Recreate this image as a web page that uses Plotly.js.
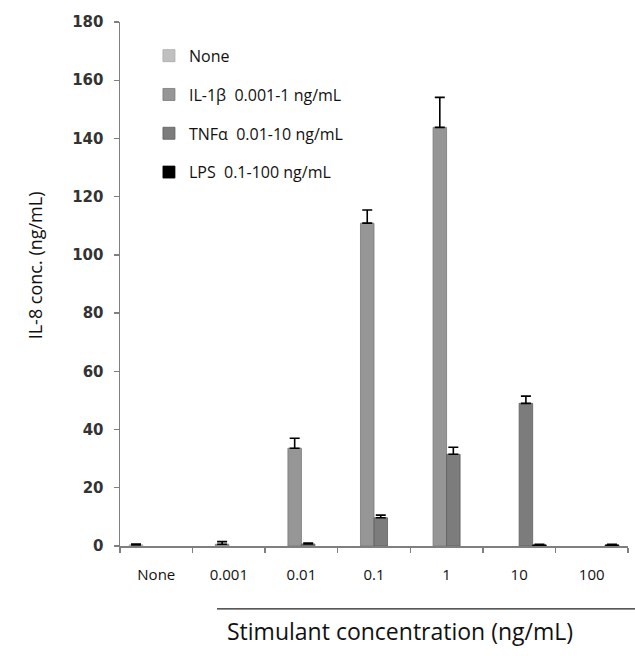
<!DOCTYPE html>
<html>
<head>
<meta charset="utf-8">
<script src="https://cdn.plot.ly/plotly-3.0.1.min.js"></script>
<style>html,body{margin:0;padding:0;background:#fff;}</style>
</head>
<body>
<div id="chart" style="width:635px;height:656px;"></div>
<script>
// Categories (stimulant concentration, ng/mL)
const categories = ["None", "0.001", "0.01", "0.1", "1", "10", "100"];

// Series names
const seriesNames = ["None", "IL-1\u03b2\u00a0\u00a00.001-1 ng/mL", "TNF\u03b1\u00a0\u00a00.01-10 ng/mL", "LPS\u00a0\u00a00.1-100 ng/mL"];

// IL-8 concentrations (ng/mL)
const noneValues = [0.4, null, null, null, null, null, null];
const noneErrors = [0.3, null, null, null, null, null, null];
const il1bValues = [null, 0.6, 33.6, 110.9, 143.8, null, null];
const il1bErrors = [null, 0.9, 3.4, 4.5, 10.3, null, null];
const tnfaValues = [null, null, 0.7, 9.7, 31.5, 49.0, null];
const tnfaErrors = [null, null, 0.3, 0.9, 2.4, 2.5, null];
const lpsValues = [null, null, null, null, null, 0.4, 0.4];
const lpsErrors = [null, null, null, null, null, 0.2, 0.2];

const colors = ["#c0c0c0", "#969696", "#7c7c7c", "#000000"];
const lineColors = ["#a8a8a8", "#7a7a7a", "#5e5e5e", "#000000"];
const valuesList = [noneValues, il1bValues, tnfaValues, lpsValues];
const errorsList = [noneErrors, il1bErrors, tnfaErrors, lpsErrors];

const traces = valuesList.map((vals, i) => ({
  type: "bar",
  name: seriesNames[i],
  legendgroup: "g" + i,
  x: categories,
  y: vals,
  marker: { color: colors[i], line: { color: lineColors[i], width: 0.8 } },
  error_y: { type: "data", array: errorsList[i], visible: true, color: "#000", thickness: 1.6, width: 5, symmetric: false, arrayminus: errorsList[i].map(() => 0) },
  hoverinfo: "x+y"
}));

const layout = {
  width: 635,
  height: 656,
  margin: { l: 120, r: 7, t: 22, b: 110 },
  paper_bgcolor: "#ffffff",
  plot_bgcolor: "#ffffff",
  barmode: "group",
  bargap: 0.255,
  bargroupgap: 0,
  font: { family: "DejaVu Sans", size: 13, color: "#111" },
  xaxis: {
    type: "category",
    categoryorder: "array",
    categoryarray: categories,
    showline: true,
    linecolor: "#7f7f7f",
    linewidth: 1.5,
    ticks: "outside",
    tickson: "boundaries",
    ticklen: 5,
    tickcolor: "#7f7f7f",
    tickwidth: 1.3,
    ticklabelstandoff: 14,
    showgrid: false,
    zeroline: false,
    tickfont: { family: "Open Sans", size: 15, color: "#111" }
  },
  yaxis: {
    range: [0, 180],
    dtick: 20,
    showline: true,
    linecolor: "#7f7f7f",
    linewidth: 1.5,
    ticks: "outside",
    ticklen: 5,
    tickcolor: "#7f7f7f",
    tickwidth: 1.3,
    ticklabelstandoff: 7,
    showgrid: false,
    zeroline: false,
    tickfont: { family: "DejaVu Sans", size: 15, color: "#333", weight: "bold" }
  },
  showlegend: true,
  legend: {
    x: 0.057,
    y: 0.968,
    xanchor: "left",
    yanchor: "top",
    bgcolor: "rgba(0,0,0,0)",
    font: { family: "Open Sans", size: 16, color: "#111" },
    tracegroupgap: 15,
    itemwidth: 30,
    traceorder: "grouped"
  },
  shapes: [
    { type: "line", xref: "paper", yref: "paper", x0: 0.191, x1: 1.02, y0: -0.12, y1: -0.12, line: { color: "#222", width: 1.3 } }
  ],
  annotations: [
    { text: "Stimulant concentration (ng/mL)", xref: "paper", yref: "paper", x: 0.551, y: -0.162, xanchor: "center", yanchor: "middle", showarrow: false, font: { family: "Open Sans", size: 23, color: "#111" } },
    { text: "IL-8 conc. (ng/mL)", xref: "paper", yref: "paper", x: -0.168, y: 0.535, xanchor: "center", yanchor: "middle", textangle: -90, showarrow: false, font: { family: "Open Sans", size: 18, color: "#111" } }
  ]
};

Plotly.newPlot("chart", traces, layout, { displayModeBar: false, staticPlot: true });
</script>
</body>
</html>
